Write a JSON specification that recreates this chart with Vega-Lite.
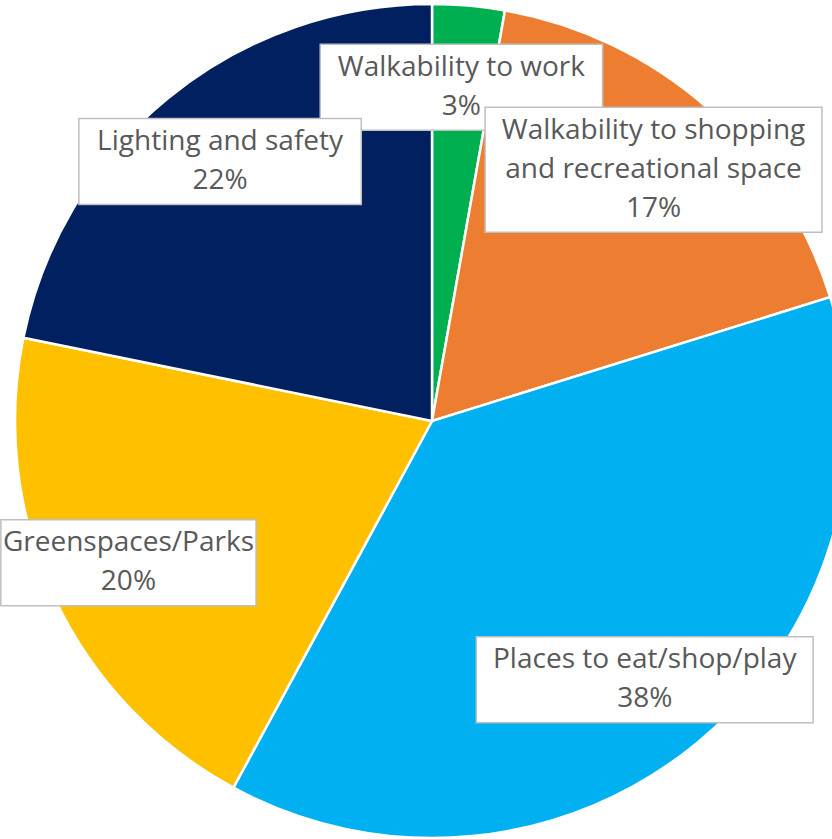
{
  "$schema": "https://vega.github.io/schema/vega-lite/v6.json",
  "width": 800,
  "height": 836,
  "autosize": "none",
  "padding": {"left": 32, "top": 3, "right": 0, "bottom": 0},
  "background": "white",
  "config": {"view": {"stroke": null}},
  "data": {
    "values": [
      {"order": 1, "category": "Walkability to work", "label": "Walkability to work", "value": 2.8},
      {"order": 2, "category": "Walkability to shopping and recreational space", "label": "Walkability to shopping|and recreational space", "value": 17.4},
      {"order": 3, "category": "Places to eat/shop/play", "label": "Places to eat/shop/play", "value": 37.7},
      {"order": 4, "category": "Greenspaces/Parks", "label": "Greenspaces/Parks", "value": 20.3},
      {"order": 5, "category": "Lighting and safety", "label": "Lighting and safety", "value": 21.8}
    ]
  },
  "transform": [
    {"window": [{"op": "sum", "field": "value", "as": "cum"}], "sort": [{"field": "order"}], "frame": [null, 0]},
    {"joinaggregate": [{"op": "sum", "field": "value", "as": "total"}]},
    {"calculate": "2*PI*(datum.cum - datum.value/2)/datum.total", "as": "mid"},
    {"calculate": "335*sin(datum.mid)", "as": "lx"},
    {"calculate": "335*cos(datum.mid)", "as": "ly"},
    {"calculate": "split(datum.label + '|' + format(datum.value/datum.total, '.0%'), '|')", "as": "lines"},
    {"calculate": "max(length(datum.lines[0]), length(datum.lines[1]), length(datum.lines[2] || ''))", "as": "maxlen"},
    {"calculate": "datum.maxlen*6.8 + 12", "as": "hw"},
    {"calculate": "length(datum.lines)*19.5 + 4", "as": "hh"},
    {"calculate": "datum.ly + (length(datum.lines) - 1)*19.5", "as": "ty"},
    {"calculate": "datum.lx - datum.hw", "as": "bx"},
    {"calculate": "datum.lx + datum.hw", "as": "bx2"},
    {"calculate": "datum.ly - datum.hh", "as": "by"},
    {"calculate": "datum.ly + datum.hh", "as": "by2"}
  ],
  "layer": [
    {
      "mark": {"type": "arc", "outerRadius": 417, "stroke": "white", "strokeWidth": 2.5},
      "encoding": {
        "theta": {"field": "value", "type": "quantitative", "stack": true},
        "order": {"field": "order", "type": "quantitative"},
        "color": {
          "field": "category",
          "type": "nominal",
          "sort": {"field": "order"},
          "scale": {
            "domain": ["Walkability to work", "Walkability to shopping and recreational space", "Places to eat/shop/play", "Greenspaces/Parks", "Lighting and safety"],
            "range": ["#00B050", "#ED7D31", "#00B0F0", "#FFC000", "#002060"]
          },
          "legend": null
        }
      }
    },
    {
      "mark": {"type": "rect", "fill": "white", "stroke": "#BFBFBF", "strokeWidth": 1.5},
      "encoding": {
        "x": {"field": "bx", "type": "quantitative", "scale": {"domain": [-400, 400], "nice": false, "zero": false}, "axis": null},
        "x2": {"field": "bx2"},
        "y": {"field": "by", "type": "quantitative", "scale": {"domain": [-418, 418], "nice": false, "zero": false}, "axis": null},
        "y2": {"field": "by2"}
      }
    },
    {
      "mark": {"type": "text", "font": "Open Sans", "fontSize": 28, "color": "#595959", "align": "center", "baseline": "middle", "lineHeight": 39},
      "encoding": {
        "x": {"field": "lx", "type": "quantitative"},
        "y": {"field": "ty", "type": "quantitative"},
        "text": {"field": "lines"}
      }
    }
  ]
}
